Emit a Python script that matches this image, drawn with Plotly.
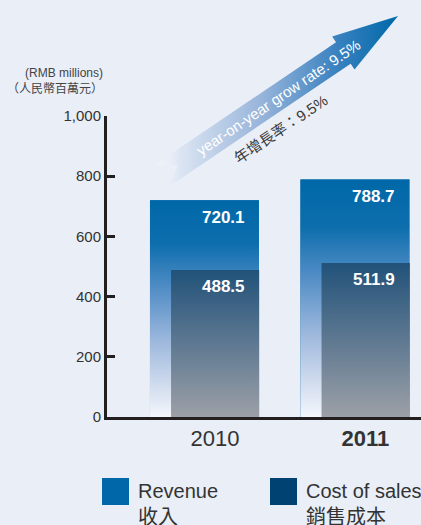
import numpy as np
import plotly.graph_objects as go

# ---- data ----
years = ["2010", "2011"]
year_labels = ["2010", "<b>2011</b>"]
revenue = [720.1, 788.7]
cost_of_sales = [488.5, 511.9]
growth_text_en = "year-on-year grow rate: 9.5%"
growth_text_zh = "年增長率：9.5%"

W, H = 421, 525
BG = "#E9EEF7"
FONT = "Liberation Sans, Arial, Noto Sans CJK TC"
REV_COLOR = "#0068A8"
COST_COLOR = "#004272"

REV_W, REV_OFF = 0.724, -0.432
COST_W, COST_OFF = 0.585, -0.292

REV_SCALE = [[0, "#F4F6FB"], [0.1, "#DCE4F2"], [0.35, "#9DB8DC"],
             [0.6, "#4F8CC5"], [0.8, "#0D6EAD"], [1, REV_COLOR]]
COST_SCALE = [[0, "#9CA0A7"], [0.5, "#5E7891"], [1, "#215279"]]


def px(x, y):
    return x / W, 1 - y / H


fig = go.Figure()

# bars
fig.add_trace(go.Bar(x=[0, 1], y=revenue, width=REV_W, offset=REV_OFF,
                     marker=dict(color=REV_COLOR, line_width=0), name="Revenue"))
fig.add_trace(go.Bar(x=[0, 1], y=cost_of_sales, width=COST_W, offset=COST_OFF,
                     marker=dict(color=COST_COLOR, line_width=0), name="Cost of sales"))

# gradient skins on the bars
for vals, w, off, scale in [(revenue, REV_W, REV_OFF, REV_SCALE),
                            (cost_of_sales, COST_W, COST_OFF, COST_SCALE)]:
    for i, v in enumerate(vals):
        x0, x1 = i + off, i + off + w
        fig.add_trace(go.Scatter(
            x=[x0, x1, x1, x0, x0], y=[0, 0, v, v, 0],
            mode="lines", line=dict(width=0), fill="toself",
            fillgradient=dict(type="vertical", colorscale=scale, start=0, stop=v),
            hoverinfo="skip", showlegend=False))

# value labels
for vals in (revenue, cost_of_sales):
    for i, v in enumerate(vals):
        fig.add_annotation(x=i + 0.055, y=v, yshift=-17, text=f"<b>{v:.1f}</b>",
                           showarrow=False, font=dict(size=17, color="white", family=FONT))

# growth arrow (pixel space on overlay axes)
tail = np.array([160.0, 177.0])
tip = np.array([398.0, 16.0])
d = (tip - tail) / np.linalg.norm(tip - tail)
n = np.array([-d[1], d[0]])
L = np.linalg.norm(tip - tail)
head_len, head_hw, shaft_hw, notch = 66, 20, 13, 22
local = [(0, -shaft_hw), (L - head_len, -shaft_hw), (L - head_len, -head_hw), (L, 0),
         (L - head_len, head_hw), (L - head_len, shaft_hw), (0, shaft_hw), (notch, 0), (0, -shaft_hw)]
pts = np.array([tail + s * d + t * n for s, t in local])
fig.add_trace(go.Scatter(
    x=pts[:, 0], y=pts[:, 1], xaxis="x2", yaxis="y2",
    mode="lines", line=dict(width=0), fill="toself",
    fillgradient=dict(type="horizontal", start=150, stop=398,
                      colorscale=[[0, "rgba(255,255,255,0)"], [0.12, "#DCE5F3"],
                                  [0.45, "#97B4DA"], [0.75, "#3A82C0"], [1, REV_COLOR]]),
    hoverinfo="skip", showlegend=False))

angle = -np.degrees(np.arctan2(-d[1], d[0]))
ex, ey = px(278, 97)
fig.add_annotation(x=ex, y=ey, xref="paper", yref="paper", text=growth_text_en,
                   xanchor="center", yanchor="middle", textangle=angle, showarrow=False,
                   font=dict(size=15, color="white", family=FONT))
zx, zy = px(280, 129)
fig.add_annotation(x=zx, y=zy, xref="paper", yref="paper", text=growth_text_zh,
                   xanchor="center", yanchor="middle", textangle=angle, showarrow=False,
                   font=dict(size=15, color="#3A3A3A", family=FONT))

# y axis title
tx, ty = px(105, 81)
fig.add_annotation(x=tx, y=ty, xref="paper", yref="paper", xanchor="right", yanchor="middle",
                   text="(RMB millions)<br>（人民幣百萬元）", align="right", showarrow=False,
                   font=dict(size=12, color="#444444", family=FONT))

# legend
legend_items = [("Revenue<br>收入", REV_COLOR, 102), ("Cost of sales<br>銷售成本", COST_COLOR, 270)]
for label, color, x in legend_items:
    fig.add_shape(type="rect", xref="paper", yref="paper",
                  x0=x / W, x1=(x + 27) / W, y0=1 - 505 / H, y1=1 - 478 / H,
                  fillcolor=color, line_width=0)
    lx, ly = px(x + 34, 478)
    fig.add_annotation(x=lx, y=ly, xref="paper", yref="paper", xanchor="left", yanchor="top",
                       text=label, align="left", showarrow=False,
                       font=dict(size=20, color="#333333", family=FONT))

fig.update_layout(
    template="none",
    width=W, height=H, margin=dict(l=0, r=0, t=0, b=0, pad=0), autosize=False,
    paper_bgcolor=BG, plot_bgcolor="rgba(0,0,0,0)", barmode="overlay", showlegend=False,
    font=dict(family=FONT, color="#333333"),
    xaxis=dict(domain=[107 / W, 1], range=[-0.7176, 1.369], tickvals=[0, 1],
               ticktext=year_labels, showgrid=False, zeroline=False, showline=True,
               linewidth=3, linecolor="#231F20", ticks="", tickfont=dict(size=22),
               automargin=False),
    yaxis=dict(domain=[1 - 417 / H, 1 - 116 / H], range=[0, 1000],
               tickvals=[0, 200, 400, 600, 800, 1000], tickformat=",",
               showgrid=False, zeroline=False, showline=True, linewidth=3,
               linecolor="#231F20", ticks="inside", ticklen=8, tickwidth=3,
               tickcolor="#231F20", tickfont=dict(size=15, color="#333333"),
               automargin=False),
    xaxis2=dict(domain=[0, 1], range=[0, W], visible=False, anchor="y2", automargin=False),
    yaxis2=dict(domain=[0, 1], range=[H, 0], visible=False, anchor="x2", automargin=False),
)

fig.write_html("out.html", config={"displayModeBar": False},
               post_script="document.body.style.margin='0';")
